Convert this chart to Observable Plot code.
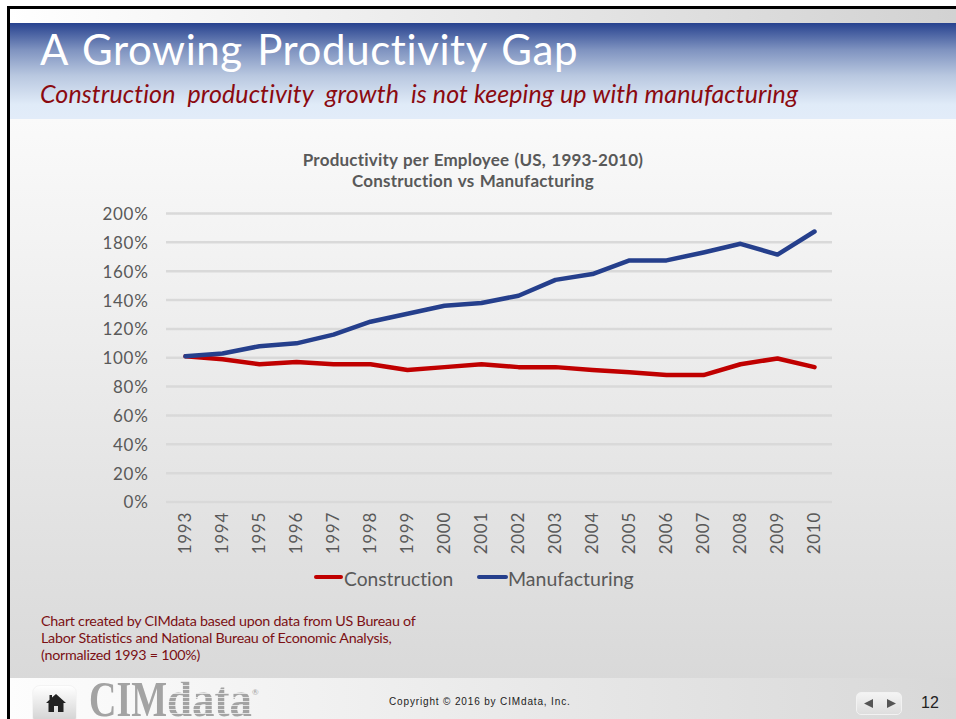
<!DOCTYPE html>
<html><head><meta charset="utf-8">
<script src="https://cdn.jsdelivr.net/npm/d3@7"></script>
<script src="https://cdn.jsdelivr.net/npm/@observablehq/plot@0.6"></script>
<style>
html,body{margin:0;padding:0;background:#fff}
#page{position:relative;width:956px;height:719px;overflow:hidden;font-family:Lato,"Open Sans",sans-serif;font-variant-ligatures:none}
#page>div,#page>svg{position:absolute}
.t{white-space:nowrap;line-height:1}
#chart svg{font-variant-ligatures:none}
</style></head><body>
<div id="page">
<div style="left:9px;top:9px;right:0;height:14px;background:linear-gradient(90deg,#fff,#d2d2d2)"></div>
<div style="left:9px;top:23px;right:0;height:96px;background:linear-gradient(180deg,#27428f 0%,#7f93c0 28%,#b9c8e0 55%,#e0ebf8 85%,#e2ecf9 100%)"></div>
<div style="left:9px;top:119px;right:0;height:559px;background:linear-gradient(180deg,#fafafa,#d9d9d9)"></div>
<div style="left:9px;top:678px;right:0;height:41px;background:linear-gradient(90deg,#fdfdfd,#d8d8d8)"></div>
<div style="left:7px;top:6px;right:0;height:3px;background:#000"></div>
<div style="left:7px;top:6px;width:3px;bottom:0;background:#000"></div>
<div class="t" id="title" style="left:40px;top:28px;font-size:42px;color:#fff;word-spacing:3px;letter-spacing:.6px">A Growing Productivity Gap</div>
<div class="t" id="sub" style="left:40px;top:81px;font-size:25px;font-style:italic;color:#8b0a10;letter-spacing:.1px">Construction&nbsp; productivity&nbsp; growth&nbsp; is not keeping up with manufacturing</div>
<div class="t" style="left:173px;width:600px;top:149px;text-align:center;font-size:17px;font-weight:700;color:#595959;line-height:21px;letter-spacing:.2px;word-spacing:1px">Productivity per Employee (US, 1993-2010)<br>Construction vs Manufacturing</div>
<div id="chart" style="left:0;top:0"></div>
<div style="left:314px;top:575px;width:29px;height:4px;border-radius:2px;background:#c00000"></div>
<div class="t" style="left:344px;top:569px;font-size:19.2px;color:#595959">Construction</div>
<div style="left:477px;top:575px;width:31px;height:4px;border-radius:2px;background:#253f8c"></div>
<div class="t" style="left:508px;top:569px;font-size:19.500px;color:#595959">Manufacturing</div>
<div class="t" style="left:41px;top:612px;font-size:14.3px;color:#7b1014;line-height:17px;letter-spacing:-.25px">Chart created by CIMdata based upon data from US Bureau of<br>Labor Statistics and National Bureau of Economic Analysis,<br>(normalized 1993 = 100%)</div>
<div style="left:32px;top:685px;width:45px;height:40px;box-sizing:border-box;border:1.5px solid #f4f4f4;border-radius:8px;background:linear-gradient(180deg,#fff,#cfcfcf)"></div>
<svg style="left:46px;top:693px" width="20" height="20" viewBox="0 0 20 20"><path d="M10 1 6 4.500V2H3.500v4.700L0 10h2.500v9H8v-6h4v6h5.500v-9H20z" fill="#222"/></svg>
<div class="t" style="left:89px;top:674px;height:45px;font-family:'Liberation Serif',serif;font-weight:700;font-size:50px;line-height:50px;color:#a3a3a3;transform:scaleX(.76);transform-origin:0 0">CIM</div>
<div class="t" style="left:167px;top:674px;height:45px;font-family:'Liberation Serif',serif;font-weight:700;font-size:50px;line-height:50px;transform:scaleX(.9);transform-origin:0 0;color:transparent;background:repeating-linear-gradient(180deg,#a3a3a3 0 3px,#e4e4e4 3px 4px);-webkit-background-clip:text;background-clip:text">data</div>
<div class="t" style="left:252px;top:688px;font-size:8px;color:#a3a3a3">®</div>
<div class="t" style="left:389px;top:697px;font-size:10px;font-family:'Liberation Sans',sans-serif;color:#222;letter-spacing:.85px">Copyright © 2016 by CIMdata, Inc.</div>
<div style="left:856px;top:692px;width:46px;height:23px;box-sizing:border-box;border:1.500px solid #f2f2f2;border-radius:5px;background:linear-gradient(180deg,#f4f4f4,#dedede)"></div>
<svg style="left:864px;top:698px" width="32" height="11" viewBox="0 0 32 11"><path d="M0 5.500 9 1v9zM32 5.500 23 1v9z" fill="#555"/></svg>
<div class="t" style="left:921px;top:695px;font-size:16px;font-family:'Liberation Sans',sans-serif;color:#222">12</div>
</div>
<script>
const years = [1993,1994,1995,1996,1997,1998,1999,2000,2001,2002,2003,2004,2005,2006,2007,2008,2009,2010];
const construction = [101,99,95.5,97,95.5,95.5,91.5,93.5,95.5,93.5,93.5,91.5,90,88,88,95.5,99.5,93.5];
const manufacturing = [101,103,108,110,116,125,130.500,136,138,143,154,158,167.5,167.5,173,179,171.500,187.5];
const yTicks = [0,20,40,60,80,100,120,140,160,180,200];
const table = name => (v,i) => ({year:String(years[i]),value:v,series:name});
const rows = [...construction.map(table("Construction")),...manufacturing.map(table("Manufacturing"))];
const chart = Plot.plot({
  width:956,height:719,
  marginLeft:166,marginRight:124,marginTop:213,marginBottom:217.500,
  style:{background:"transparent",fontFamily:"Lato, 'Open Sans', sans-serif",letterSpacing:"0.7px"},
  x:{type:"point",domain:years.map(String),padding:0.5,label:null},
  y:{domain:[0,200],label:null},
  color:{domain:["Construction","Manufacturing"],range:["#c00000","#253f8c"]},
  marks:[
    Plot.ruleY(yTicks,{stroke:"#d9d9d9",strokeWidth:2.5}),
    Plot.axisY({ticks:yTicks,tickSize:0,tickPadding:18,tickFormat:d=>d+"%",label:null,fontSize:17,color:"#595959",dy:1}),
    Plot.axisX({tickSize:0,tickPadding:10,tickRotate:-90,label:null,fontSize:17,color:"#595959"}),
    Plot.line(rows,{x:"year",y:"value",stroke:"series",strokeWidth:4.5,strokeLinecap:"round",strokeLinejoin:"round"})
  ]
});
document.getElementById("chart").appendChild(chart);
</script>
</body></html>
